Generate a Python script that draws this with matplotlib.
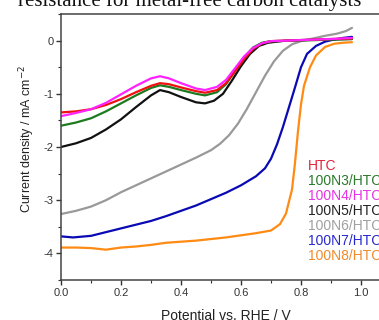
import matplotlib
matplotlib.use("Agg")
import matplotlib.pyplot as plt
from matplotlib.ticker import MultipleLocator

plt.rcParams['font.family'] = ['Liberation Sans', 'DejaVu Sans']
plt.rcParams['axes.unicode_minus'] = False

# LSV data (potential in V vs RHE, current density in mA cm-2)
htc_v = [0.00, 0.05, 0.10, 0.15, 0.20, 0.25, 0.30, 0.33, 0.36, 0.40, 0.45, 0.48, 0.52,
         0.55, 0.58, 0.61, 0.64, 0.67, 0.70, 0.75, 0.80, 0.85, 0.90, 0.97]
htc_j = [-1.35, -1.33, -1.29, -1.21, -1.10, -0.97, -0.85, -0.80, -0.82, -0.88, -0.95, -0.98, -0.93,
         -0.80, -0.58, -0.35, -0.16, -0.05, -0.01, 0.00, 0.01, 0.02, 0.03, 0.04]

n3_v = [0.00, 0.05, 0.10, 0.15, 0.20, 0.25, 0.30, 0.33, 0.36, 0.40, 0.45, 0.48, 0.52,
        0.55, 0.58, 0.61, 0.64, 0.67, 0.70, 0.80, 0.90, 0.97]
n3_j = [-1.60, -1.54, -1.46, -1.33, -1.18, -1.03, -0.89, -0.84, -0.87, -0.93, -1.00, -1.03, -0.97,
        -0.82, -0.57, -0.32, -0.13, -0.04, -0.01, 0.00, 0.02, 0.03]

n4_v = [0.00, 0.05, 0.10, 0.15, 0.20, 0.25, 0.30, 0.33, 0.36, 0.40, 0.45, 0.48, 0.52,
        0.55, 0.58, 0.61, 0.64, 0.67, 0.70, 0.80, 0.90, 0.97]
n4_j = [-1.42, -1.36, -1.29, -1.17, -1.01, -0.85, -0.71, -0.67, -0.71, -0.80, -0.90, -0.93, -0.87,
        -0.74, -0.52, -0.30, -0.14, -0.05, -0.01, 0.01, 0.03, 0.05]

n5_v = [0.00, 0.05, 0.10, 0.15, 0.20, 0.25, 0.30, 0.33, 0.36, 0.40, 0.45, 0.48, 0.51,
        0.54, 0.57, 0.60, 0.63, 0.66, 0.69, 0.75, 0.80, 0.90, 0.97]
n5_j = [-2.00, -1.93, -1.83, -1.67, -1.48, -1.25, -1.03, -0.93, -0.97, -1.06, -1.16, -1.18, -1.13,
        -1.00, -0.75, -0.48, -0.25, -0.10, -0.04, 0.00, 0.01, 0.02, 0.03]

n6_v = [0.00, 0.05, 0.10, 0.15, 0.20, 0.25, 0.30, 0.35, 0.40, 0.45, 0.50, 0.53, 0.56,
        0.59, 0.62, 0.65, 0.68, 0.71, 0.74, 0.77, 0.80, 0.84, 0.88, 0.92, 0.95, 0.97]
n6_j = [-3.26, -3.20, -3.12, -3.00, -2.85, -2.72, -2.59, -2.46, -2.33, -2.20, -2.06, -1.94, -1.78,
        -1.56, -1.28, -0.97, -0.66, -0.39, -0.19, -0.07, -0.01, 0.04, 0.09, 0.13, 0.18, 0.24]

n7_v = [0.00, 0.04, 0.10, 0.15, 0.20, 0.25, 0.30, 0.35, 0.40, 0.45, 0.50, 0.55, 0.60, 0.65,
        0.68, 0.70, 0.72, 0.74, 0.76, 0.78, 0.80, 0.82, 0.85, 0.88, 0.91, 0.94, 0.97]
n7_j = [-3.68, -3.70, -3.67, -3.60, -3.53, -3.46, -3.39, -3.30, -3.20, -3.10, -2.98, -2.86, -2.72, -2.55,
        -2.40, -2.22, -1.95, -1.62, -1.25, -0.88, -0.50, -0.25, -0.10, -0.02, 0.02, 0.05, 0.07]

n8_v = [0.00, 0.05, 0.10, 0.15, 0.20, 0.25, 0.30, 0.35, 0.40, 0.45, 0.50, 0.55, 0.60, 0.65, 0.70,
        0.73, 0.75, 0.77, 0.78, 0.79, 0.80, 0.81, 0.83, 0.85, 0.88, 0.91, 0.94, 0.97]
n8_j = [-3.89, -3.89, -3.90, -3.93, -3.89, -3.87, -3.84, -3.80, -3.78, -3.76, -3.73, -3.70, -3.66, -3.62, -3.57,
        -3.45, -3.25, -2.80, -2.30, -1.70, -1.20, -0.85, -0.50, -0.28, -0.12, -0.06, -0.04, -0.03]

labels = ['HTC', '100N3/HTC', '100N4/HTC', '100N5/HTC', '100N6/HTC', '100N7/HTC', '100N8/HTC']
colors = ['#ee1111', '#1e7a1e', '#ff22ff', '#111111', '#999999', '#0a0ab4', '#ff8a14']
text_colors = ['#e3223c', '#2a7a2a', '#e633e6', '#222222', '#a0a0a0', '#2828d0', '#f08a2a']

series = [(htc_v, htc_j), (n3_v, n3_j), (n4_v, n4_j), (n5_v, n5_j),
          (n6_v, n6_j), (n7_v, n7_j), (n8_v, n8_j)]

fig = plt.figure(figsize=(3.79, 3.2), dpi=100)
ax = fig.add_axes([61 / 379, 40 / 320, 330 / 379, 266 / 320])

# draw back to front so HTC/N4 sit on top like the original
order = [6, 5, 4, 3, 1, 0, 2]
for i in order:
    v, j = series[i]
    ax.plot(v, j, color=colors[i], lw=1.6, solid_capstyle='round')

ax.set_xlim(0, 1.1)
ax.set_ylim(-4.5, 0.5)
ax.xaxis.set_minor_locator(MultipleLocator(0.1))
ax.yaxis.set_minor_locator(MultipleLocator(0.5))
ax.set_xticks([0.0, 0.2, 0.4, 0.6, 0.8, 1.0])
ax.set_xticklabels(['0.0', '0.2', '0.4', '0.6', '0.8', '1.0'])
ax.set_yticks([0, -1, -2, -3, -4])
ax.set_yticklabels(['0', '-1', '-2', '-3', '-4'])
ax.tick_params(which='major', direction='out', length=3.5, width=1, labelsize=8,
               colors='#333333', pad=2)
ax.tick_params(which='minor', direction='out', length=2, width=0.8, colors='#333333')
for s in ax.spines.values():
    s.set_linewidth(1.1)
    s.set_color('#444444')

ax.set_xlabel('Potential vs. RHE / V', fontsize=10, color='#222222', labelpad=8)
ax.set_ylabel('Current density / mA cm$^{-2}$', fontsize=9, color='#222222')
ax.yaxis.set_label_coords(-0.073, 0.53)

for i, lab in enumerate(labels):
    ax.text(0.823, -2.36 - i * 0.283, lab, color=text_colors[i], fontsize=10,
            va='center', ha='left')

# fragment of the caption above, cut off by the crop
fig.text(0.5, 1 - 6 / 320, 'resistance for metal-free carbon catalysts', fontsize=15,
         family=['Liberation Serif', 'DejaVu Serif'], ha='center', va='baseline', color='#111111')

fig.savefig('out.png', dpi=100)
